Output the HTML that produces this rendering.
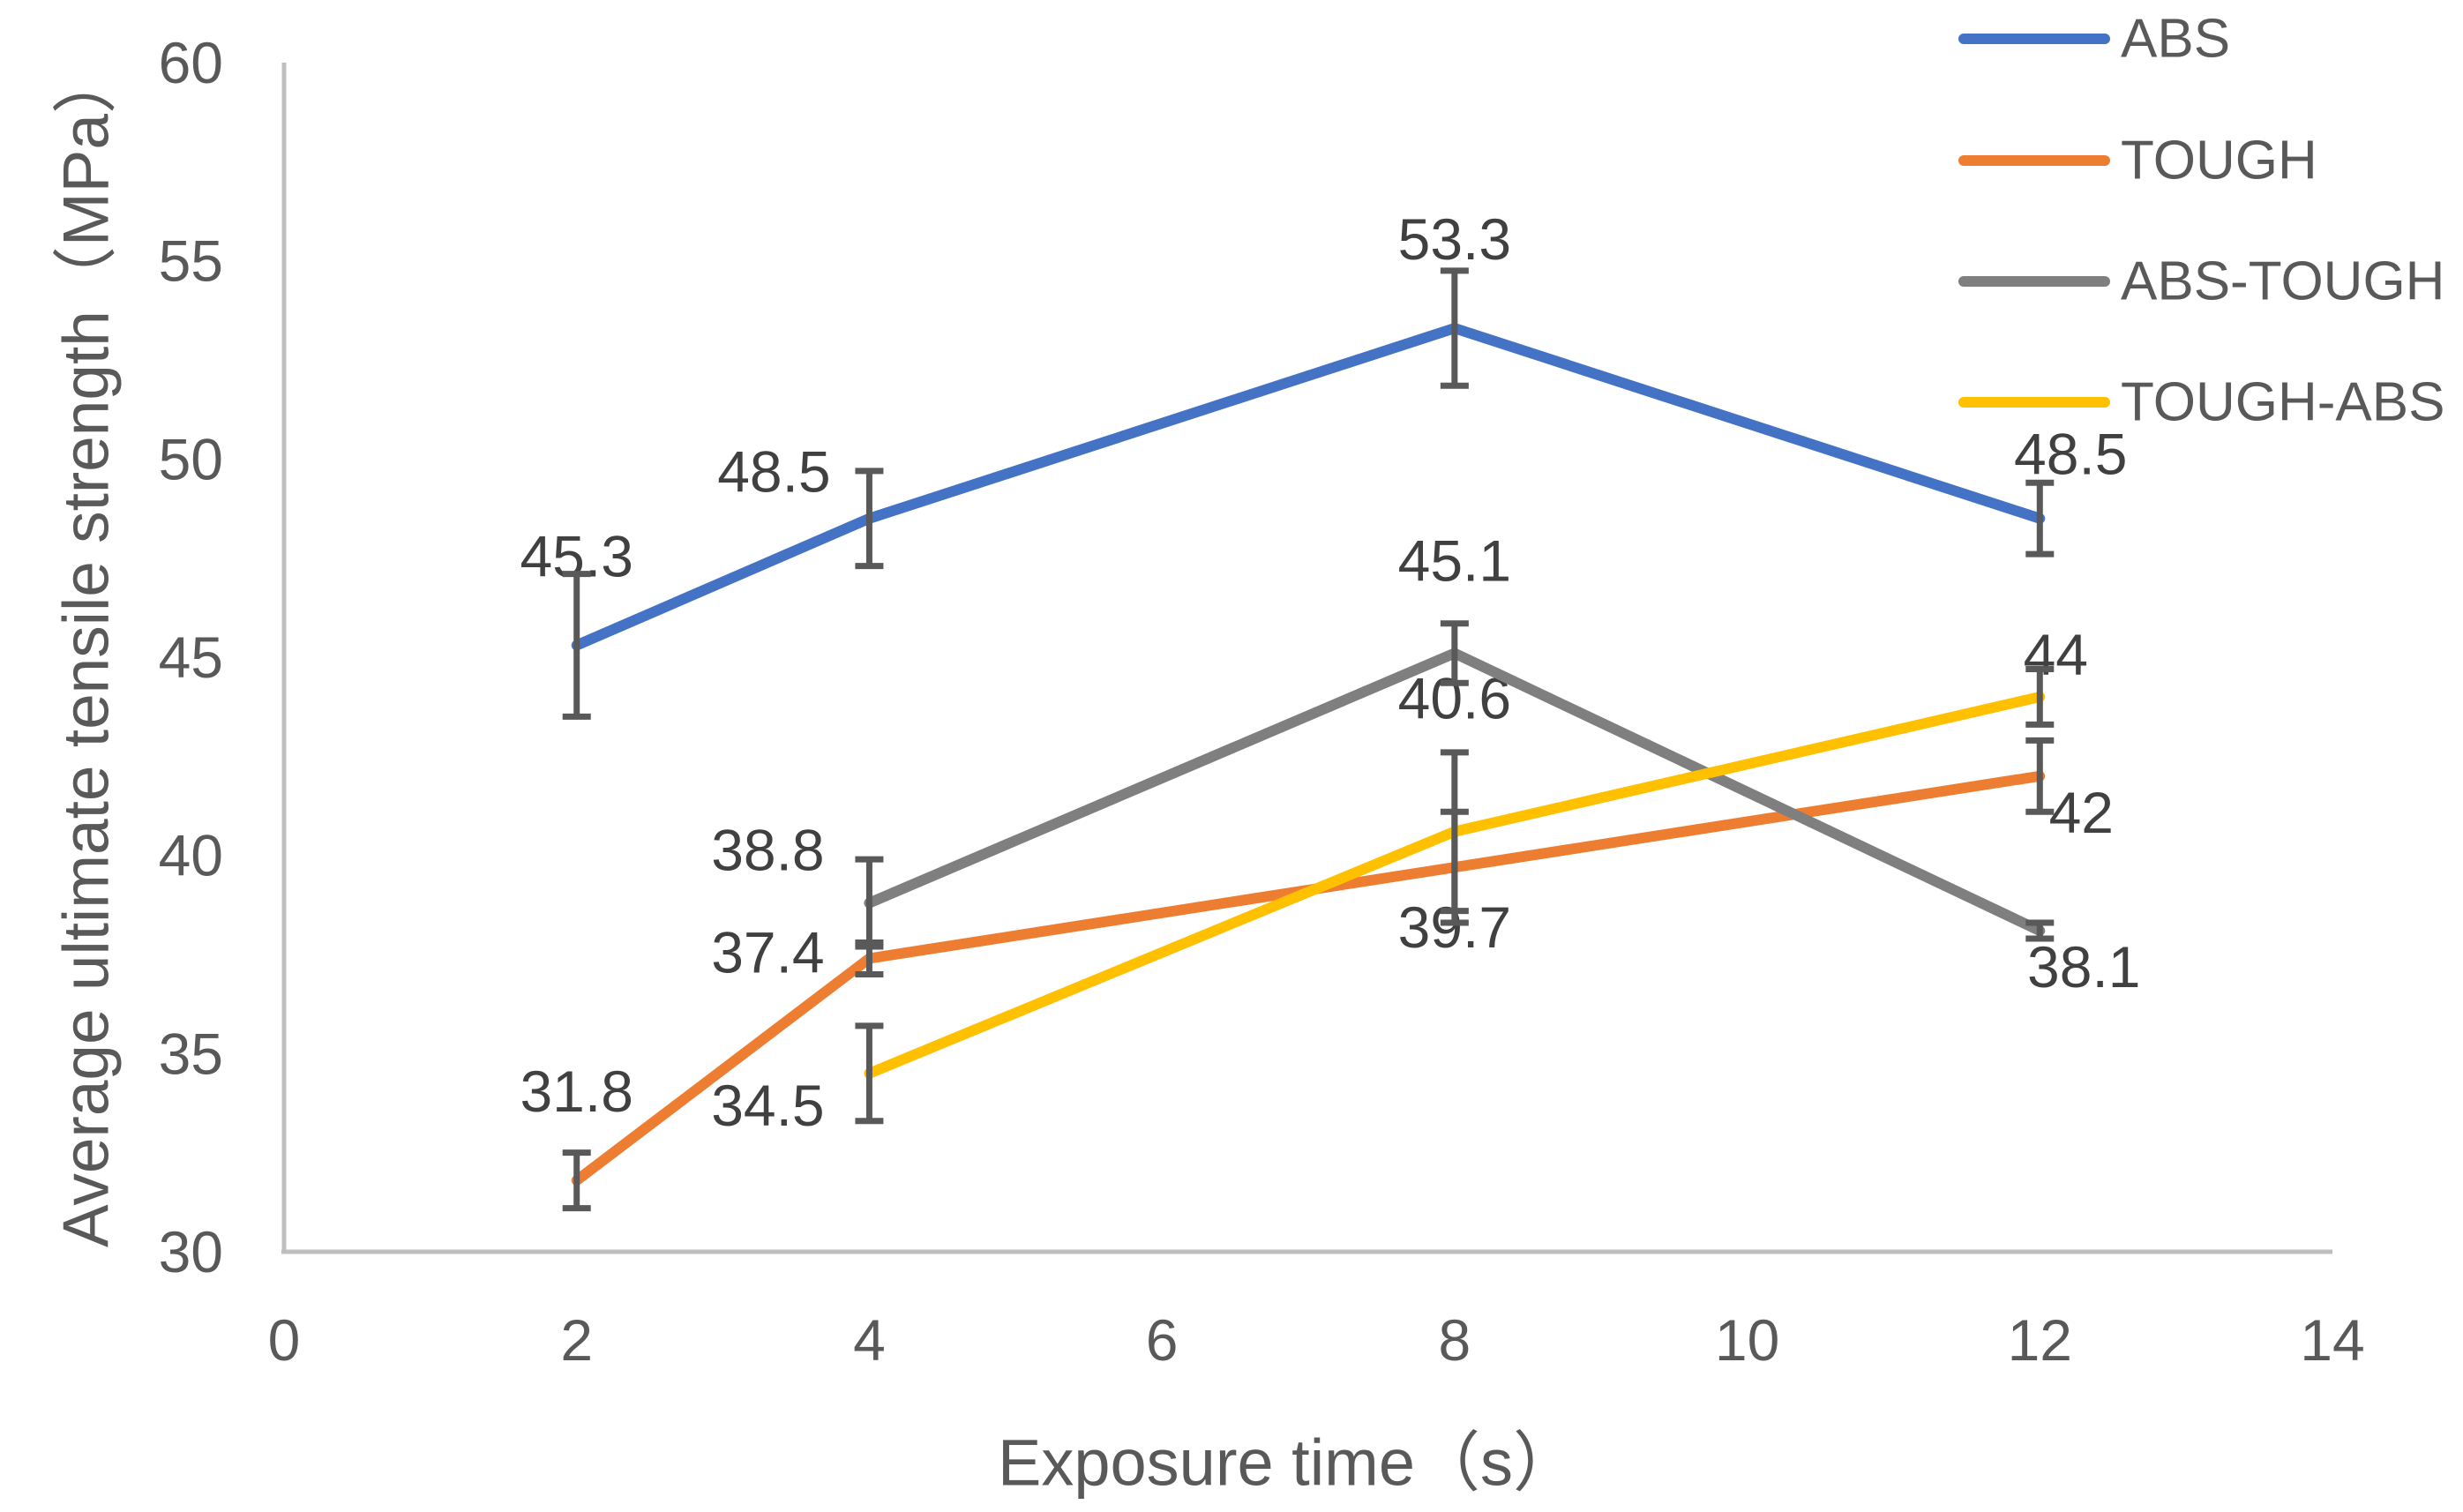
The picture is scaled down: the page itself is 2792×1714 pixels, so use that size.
<!DOCTYPE html>
<html><head><meta charset="utf-8"><style>
html,body{margin:0;padding:0;background:#fff;}
svg{display:block;font-family:"Liberation Sans","Noto Sans CJK SC",sans-serif;}
</style></head><body>
<svg id="chart" width="2792" height="1714" viewBox="0 0 2792 1714" xmlns="http://www.w3.org/2000/svg">
<g id="axes"></g>
<g id="series"></g>
<g id="legend"></g>
<text x="98" y="735" transform="rotate(-90 98 735)" text-anchor="middle" dominant-baseline="central" font-size="73" fill="#595959">Average ultimate tensile strength（MPa）</text>
<text x="1460" y="1658" text-anchor="middle" dominant-baseline="central" font-size="74" fill="#595959">Exposure time（s）</text>
</svg>
<script>
const xTicks=[0,2,4,6,8,10,12,14];
const yTicks=[30,35,40,45,50,55,60];
const seriesNames=["ABS","TOUGH","ABS-TOUGH","TOUGH-ABS"];
const absX=[2,4,8,12];
const absY=[45.3,48.5,53.3,48.5];
const absErr=[1.8,1.2,1.45,0.9];
const toughX=[2,4,8,12];
const toughY=[31.8,37.4,39.7,42];
const toughErr=[0.7,0.4,1.4,0.9];
const abstoughX=[4,8,12];
const abstoughY=[38.8,45.1,38.1];
const abstoughErr=[1.1,0.75,0.2];
const toughabsX=[4,8,12];
const toughabsY=[34.5,40.6,44];
const toughabsErr=[1.2,2.0,0.7];

const NS="http://www.w3.org/2000/svg";
const X0=322,X1=2644,Y0=1419,Y1=71;
function sx(v){return X0+(v-0)/(14-0)*(X1-X0);}
function sy(v){return Y0-(v-30)/(60-30)*(Y0-Y1);}
function mk(tag,attrs,parent){const e=document.createElementNS(NS,tag);for(const k in attrs)e.setAttribute(k,attrs[k]);parent.appendChild(e);return e;}
const axes=document.getElementById('axes');
let ax=mk('line',{x1:X0,y1:Y1,x2:X0,y2:Y0,stroke:'#BFBFBF','stroke-width':5},axes);


ax=mk('line',{x1:X0-3,y1:Y0,x2:X1,y2:Y0,stroke:'#BFBFBF','stroke-width':5},axes);


yTicks.forEach(t=>{const e=mk('text',{x:253,y:sy(t),'text-anchor':'end','dominant-baseline':'central','font-size':66,fill:'#595959'},axes);e.textContent=t;

});
xTicks.forEach(t=>{const e=mk('text',{x:sx(t),y:1519,'text-anchor':'middle','dominant-baseline':'central','font-size':66,fill:'#595959'},axes);e.textContent=t;

});

const colors=['#4472C4','#ED7D31','#7F7F7F','#FFC000'];
const allX=[absX,toughX,abstoughX,toughabsX];
const allY=[absY,toughY,abstoughY,toughabsY];
const allE=[absErr,toughErr,abstoughErr,toughabsErr];
const offs=[[[0,-101],[-108,-53],[0,-101],[35,-73]],[[0,-101],[-115,-7],[0,68],[47,41]],[[-115,-60],[0,-105],[50,41]],[[-115,36],[0,-151],[18,-48]]];
const sg=document.getElementById('series');
const lblG=mk('g',{},sg);
for(let s=0;s<4;s++){
  const g=mk('g',{},sg);
  
  
  const pts=allX[s].map((x,i)=>sx(x)+','+sy(allY[s][i])).join(' ');
  const pl=mk('polyline',{points:pts,fill:'none',stroke:colors[s],'stroke-width':12,'stroke-linejoin':'round','stroke-linecap':'round'},g);
  
  
  allX[s].forEach((x,i)=>{
    const cx=sx(x),v=allY[s][i],e=allE[s][i];
    const eg=mk('g',{stroke:'#595959','stroke-width':7},g);
    
    
    mk('line',{x1:cx,x2:cx,y1:sy(v+e),y2:sy(v-e)},eg);
    mk('line',{x1:cx-16,x2:cx+16,y1:sy(v+e),y2:sy(v+e)},eg);
    mk('line',{x1:cx-16,x2:cx+16,y1:sy(v-e),y2:sy(v-e)},eg);
    const o=offs[s][i]||[0,-100];
    const t=mk('text',{x:cx+o[0],y:sy(v)+o[1],'text-anchor':'middle','dominant-baseline':'central','font-size':66,fill:'#404040'},lblG);
    t.textContent=v;
    
    
  });
}
const lg=document.getElementById('legend');
const legY=[44,182,319,456];
seriesNames.forEach((n,i)=>{
  const g=mk('g',{},lg);
  
  
  mk('line',{x1:2226,x2:2386,y1:legY[i],y2:legY[i],stroke:colors[i],'stroke-width':12,'stroke-linecap':'round'},g);
  const t=mk('text',{x:2404,y:legY[i],'dominant-baseline':'central','font-size':62,fill:'#595959'},g);
  t.textContent=n;
});
</script>
</body></html>
